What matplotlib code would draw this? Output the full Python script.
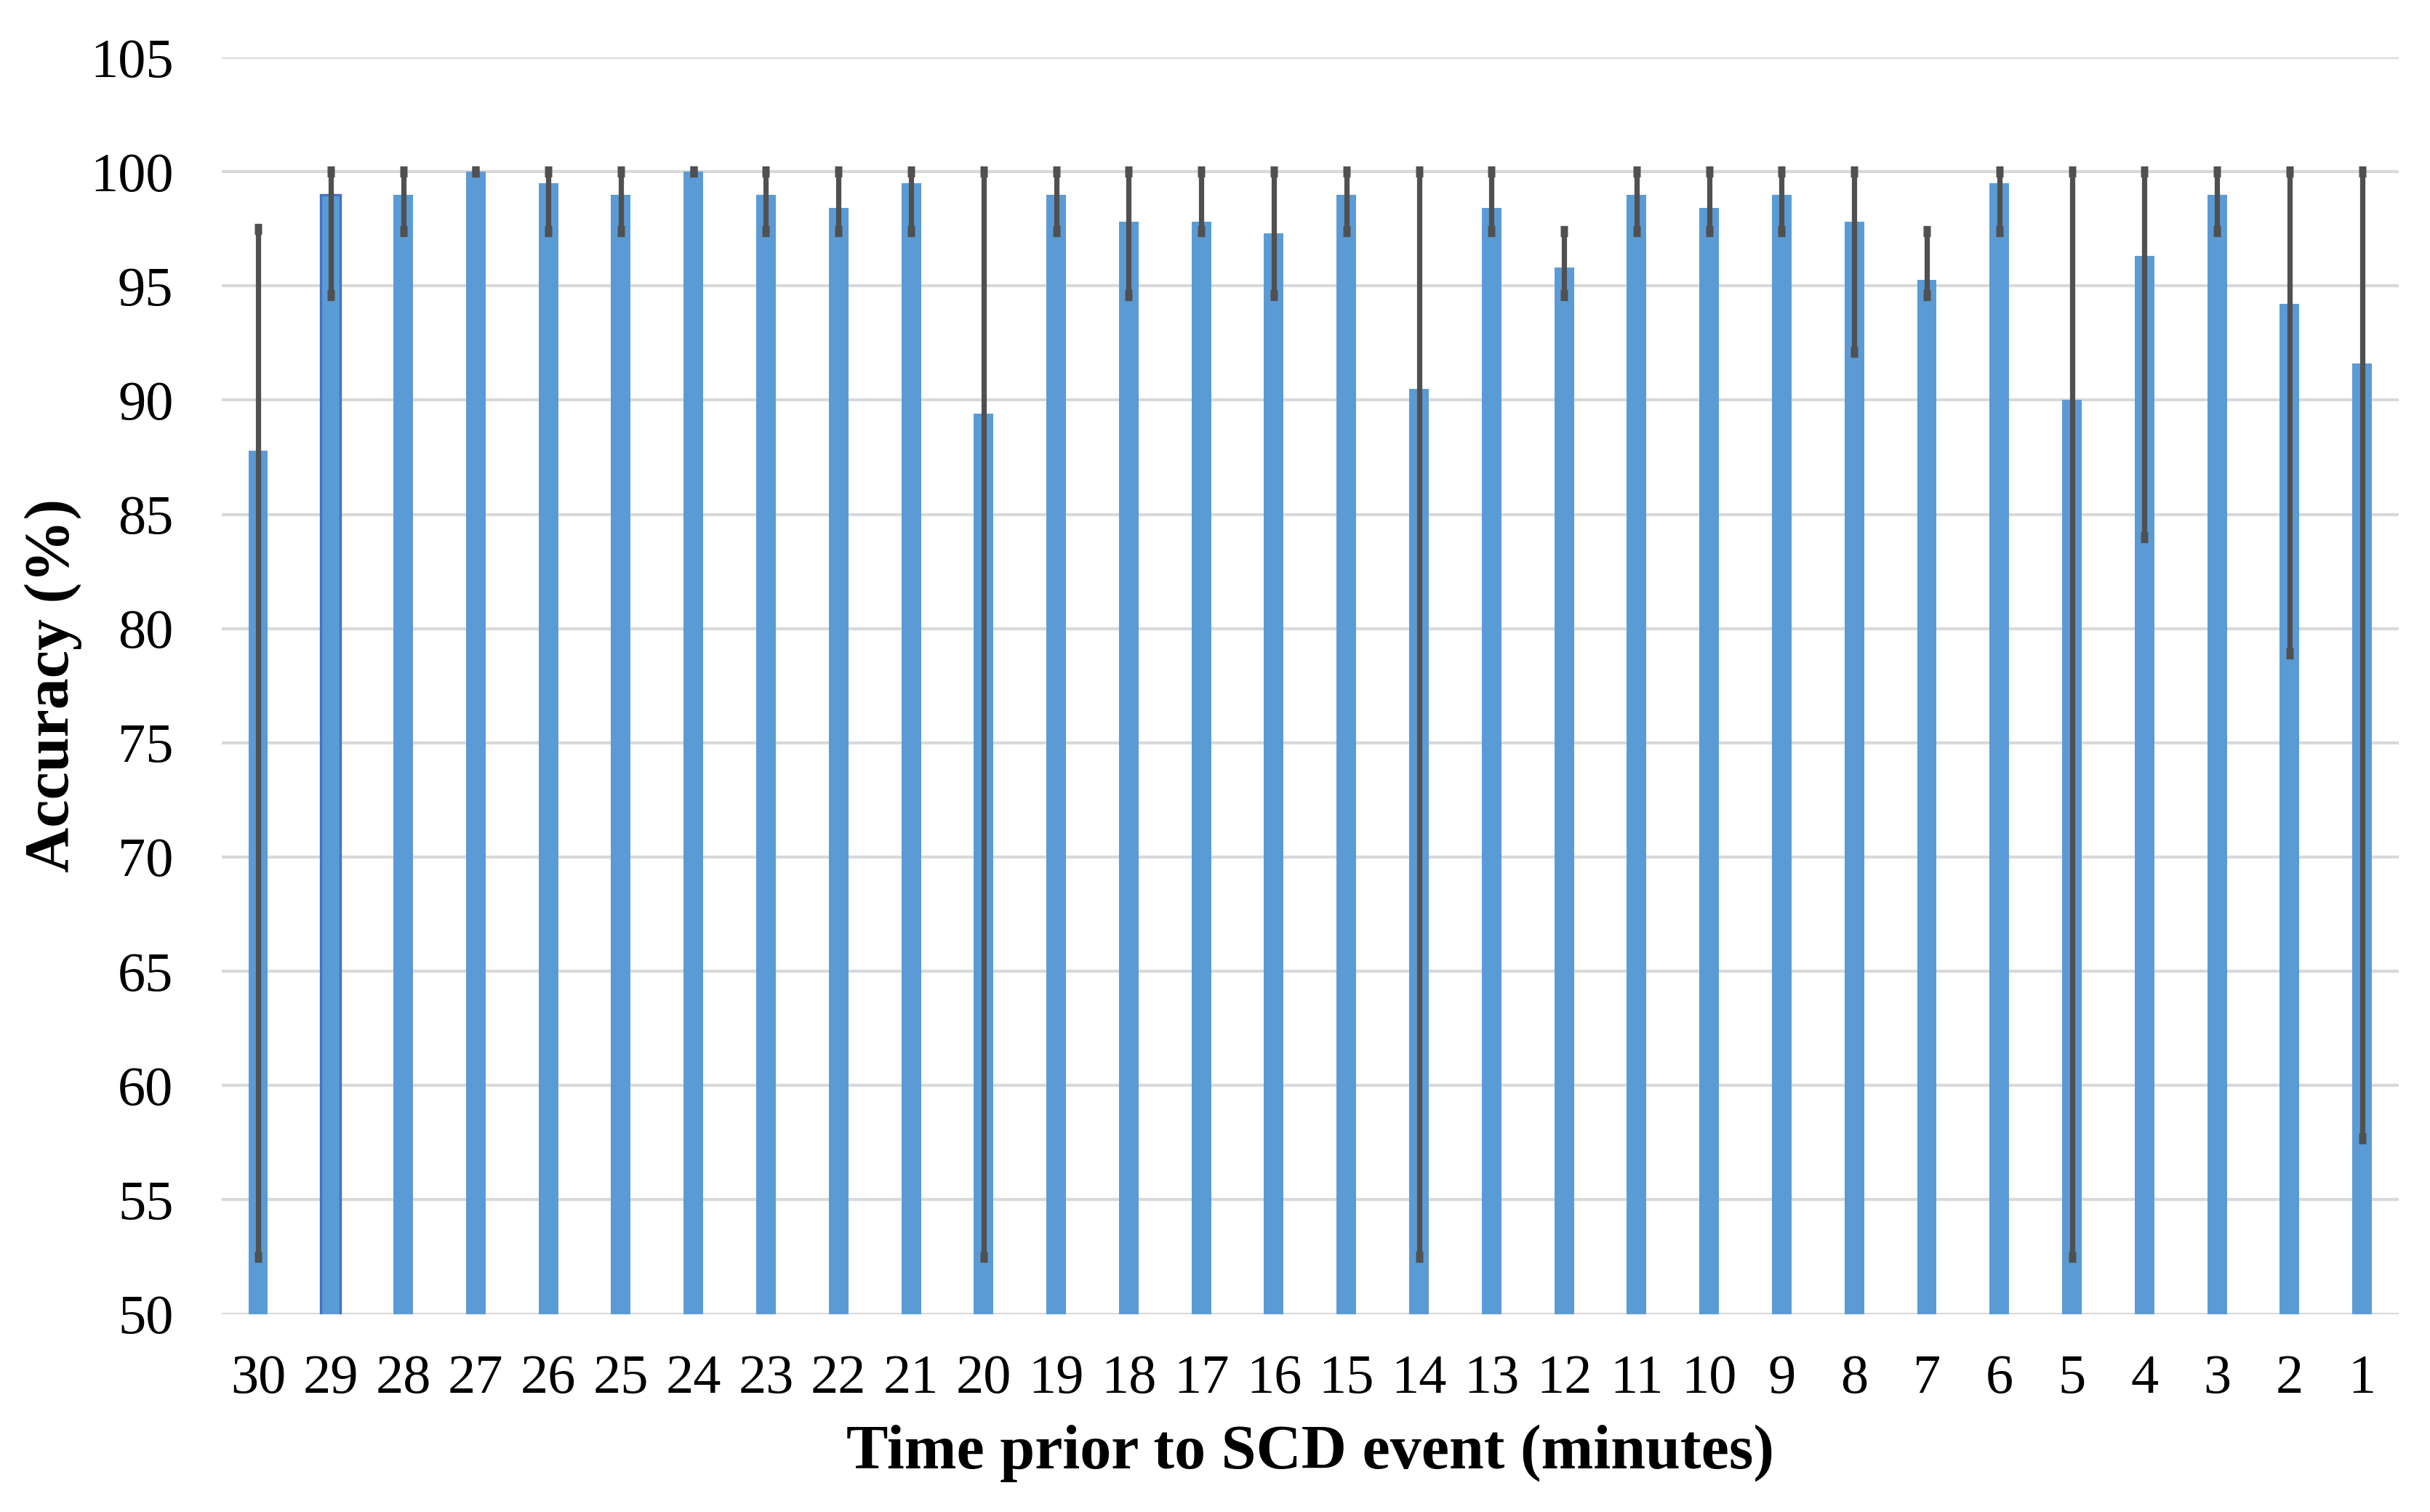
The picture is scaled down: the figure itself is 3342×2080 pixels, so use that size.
import matplotlib.pyplot as plt
import numpy as np

# minutes before the SCD event
minutos = [30, 29, 28, 27, 26, 25, 24, 23, 22, 21, 20, 19, 18, 17, 16,
           15, 14, 13, 12, 11, 10, 9, 8, 7, 6, 5, 4, 3, 2, 1]
# mean accuracy (%)
acuracia = [87.8, 99.0, 99.0, 100.0, 99.5, 99.0, 100.0, 99.0, 98.4, 99.5,
            89.4, 99.0, 97.8, 97.8, 97.3, 99.0, 90.5, 98.4, 95.8, 99.0,
            98.4, 99.0, 97.8, 95.25, 99.5, 90.0, 96.3, 99.0, 94.2, 91.6]
# error bar ends (%)
erroSup = [97.5, 100, 100, 100, 100, 100, 100, 100, 100, 100,
           100, 100, 100, 100, 100, 100, 100, 100, 97.4, 100,
           100, 100, 100, 97.4, 100, 100, 100, 100, 100, 100]
erroInf = [52.5, 94.6, 97.4, 100, 97.4, 97.4, 100, 97.4, 97.4, 97.4,
           52.5, 97.4, 94.6, 97.4, 94.6, 97.4, 52.5, 97.4, 94.6, 97.4,
           97.4, 97.4, 92.1, 94.6, 97.4, 52.5, 84.0, 97.4, 78.9, 57.7]

serif = ['Liberation Serif', 'DejaVu Serif']

fig = plt.figure(figsize=(16.71, 10.4), dpi=200)
ax = fig.add_axes([0.0913, 0.131, 0.8957, 0.831])

x = np.arange(len(minutos))
acc = np.array(acuracia)
yerr = [acc - np.array(erroInf), np.array(erroSup) - acc]

barras = ax.bar(x, acc, width=0.27, color='#5B9BD5', zorder=2)
# the 29 min bar has a darker outline in the original
barras[1].set_edgecolor('#4472C4')
barras[1].set_linewidth(1.2)
ax.errorbar(x, acc, yerr=yerr, fmt='none', ecolor='#505050', elinewidth=2.6,
            capsize=1.8, capthick=5.5, zorder=3)

ax.set_ylim(50, 105)
ax.set_xlim(-0.5, 29.5)
ax.set_yticks(np.arange(50, 106, 5))
ax.set_xticks(x)
ax.set_xticklabels([str(m) for m in minutos])
ax.grid(axis='y', color='#D9D9D9', linewidth=1.5, zorder=0)
for lado in ['top', 'right', 'left', 'bottom']:
    ax.spines[lado].set_visible(False)
ax.tick_params(axis='both', length=0, labelsize=27.5)
ax.tick_params(axis='y', pad=24)
ax.tick_params(axis='x', pad=20)
for rotulo in ax.get_xticklabels() + ax.get_yticklabels():
    rotulo.set_family(serif)

ax.set_xlabel('Time prior to SCD event (minutes)', family=serif, fontsize=31,
              fontweight='bold', labelpad=10)
ax.set_ylabel('Accuracy (%)', family=serif, fontsize=31, fontweight='bold',
              labelpad=4)

fig.savefig('out.png', dpi=200)
